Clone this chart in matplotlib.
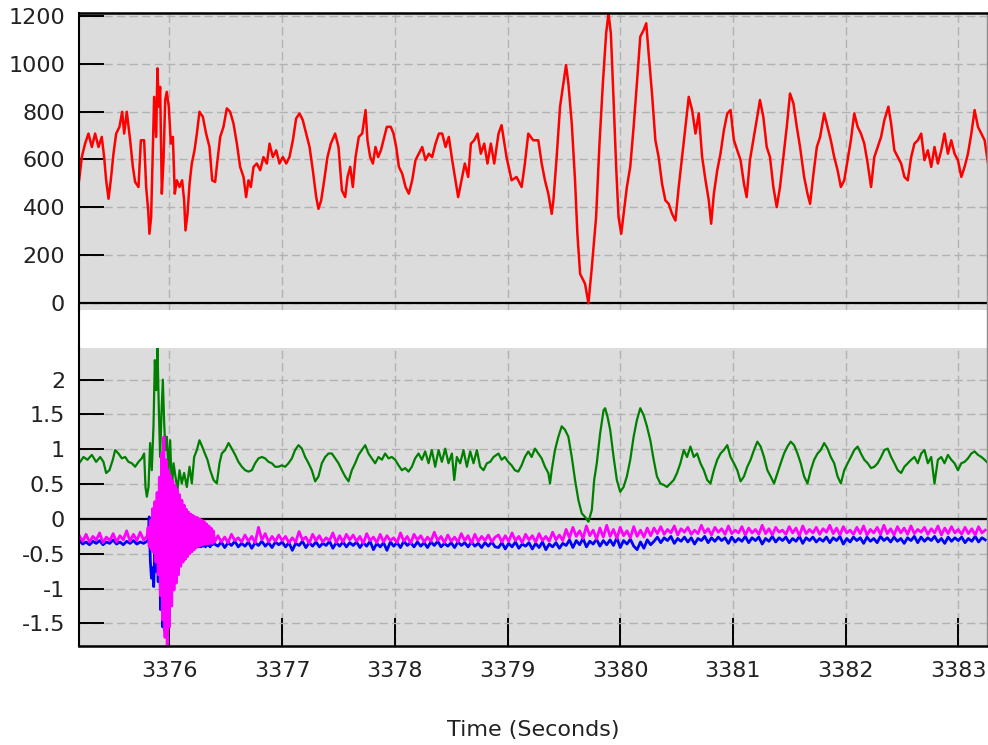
import matplotlib
matplotlib.use("Agg")
import matplotlib.pyplot as plt
from matplotlib.lines import Line2D
from matplotlib.ticker import FormatStrFormatter

plt.rcParams['font.family'] = ['DejaVu Sans']
plt.rcParams['axes.unicode_minus'] = False

# ---- data ----
x_ticks = [3376, 3377, 3378, 3379, 3380, 3381, 3382, 3383]
top_yticks = [0, 200, 400, 600, 800, 1000, 1200]
bot_yticks = [-1.5, -1, -0.5, 0, 0.5, 1, 1.5, 2]

# upper trace (red)
red_t = [
    3375.198, 3375.222, 3375.251, 3375.281, 3375.311, 3375.340, 3375.370, 3375.399, 3375.420, 3375.438,
    3375.459, 3375.479, 3375.503, 3375.527, 3375.556, 3375.580, 3375.598, 3375.621, 3375.651, 3375.675,
    3375.695, 3375.725, 3375.746, 3375.775, 3375.793, 3375.811, 3375.822, 3375.837, 3375.852, 3375.864,
    3375.882, 3375.893, 3375.905, 3375.917, 3375.932, 3375.947, 3375.962, 3375.976, 3375.994, 3376.012,
    3376.030, 3376.047, 3376.065, 3376.089, 3376.112, 3376.130, 3376.142, 3376.160, 3376.178, 3376.198,
    3376.222, 3376.243, 3376.266, 3376.296, 3376.325, 3376.355, 3376.379, 3376.405, 3376.426, 3376.450,
    3376.479, 3376.509, 3376.538, 3376.568, 3376.598, 3376.627, 3376.657, 3376.680, 3376.701, 3376.722,
    3376.746, 3376.775, 3376.805, 3376.834, 3376.864, 3376.888, 3376.917, 3376.947, 3376.976, 3377.006,
    3377.036, 3377.065, 3377.095, 3377.124, 3377.154, 3377.183, 3377.213, 3377.243, 3377.272, 3377.302,
    3377.322, 3377.346, 3377.373, 3377.402, 3377.432, 3377.470, 3377.500, 3377.530, 3377.559, 3377.580,
    3377.604, 3377.627, 3377.651, 3377.680, 3377.710, 3377.740, 3377.757, 3377.781, 3377.805, 3377.828,
    3377.852, 3377.876, 3377.899, 3377.929, 3377.964, 3377.988, 3378.012, 3378.036, 3378.065, 3378.095,
    3378.124, 3378.154, 3378.183, 3378.213, 3378.243, 3378.272, 3378.302, 3378.331, 3378.361, 3378.391,
    3378.420, 3378.450, 3378.479, 3378.509, 3378.538, 3378.562, 3378.592, 3378.621, 3378.651, 3378.675,
    3378.704, 3378.734, 3378.763, 3378.793, 3378.822, 3378.852, 3378.882, 3378.920, 3378.947, 3378.991,
    3379.036, 3379.080, 3379.125, 3379.154, 3379.184, 3379.228, 3379.273, 3379.303, 3379.332, 3379.362,
    3379.392, 3379.407, 3379.436, 3379.466, 3379.496, 3379.519, 3379.540, 3379.570, 3379.599, 3379.620,
    3379.644, 3379.688, 3379.718, 3379.748, 3379.786, 3379.816, 3379.846, 3379.875, 3379.896, 3379.917,
    3379.941, 3379.964, 3379.985, 3380.009, 3380.030, 3380.059, 3380.089, 3380.119, 3380.148, 3380.178,
    3380.208, 3380.231, 3380.252, 3380.282, 3380.312, 3380.341, 3380.371, 3380.401, 3380.430, 3380.460,
    3380.490, 3380.519, 3380.549, 3380.579, 3380.608, 3380.638, 3380.668, 3380.697, 3380.727, 3380.757,
    3380.786, 3380.807, 3380.831, 3380.861, 3380.890, 3380.920, 3380.950, 3380.979, 3381.009, 3381.039,
    3381.068, 3381.098, 3381.122, 3381.151, 3381.181, 3381.211, 3381.240, 3381.270, 3381.300, 3381.329,
    3381.359, 3381.389, 3381.418, 3381.448, 3381.478, 3381.507, 3381.537, 3381.567, 3381.596, 3381.632,
    3381.662, 3381.685, 3381.715, 3381.745, 3381.774, 3381.810, 3381.840, 3381.869, 3381.899, 3381.929,
    3381.958, 3381.988, 3382.018, 3382.047, 3382.077, 3382.107, 3382.136, 3382.166, 3382.196, 3382.226,
    3382.255, 3382.285, 3382.315, 3382.344, 3382.380, 3382.404, 3382.433, 3382.463, 3382.493, 3382.522,
    3382.552, 3382.582, 3382.611, 3382.641, 3382.671, 3382.700, 3382.730, 3382.760, 3382.789, 3382.819,
    3382.849, 3382.878, 3382.908, 3382.938, 3382.967, 3382.997, 3383.027, 3383.056, 3383.086, 3383.116,
    3383.145, 3383.175, 3383.205, 3383.234, 3383.264,
]
red_v = [
    513, 610, 666, 708, 652, 708, 652, 694, 610, 513,
    436, 513, 624, 708, 736, 799, 708, 799, 680, 569,
    506, 485, 680, 680, 485, 387, 290, 359, 638, 861,
    694, 980, 820, 903, 457, 597, 848, 882, 820, 666,
    694, 457, 513, 485, 513, 429, 304, 373, 499, 583,
    638, 708, 799, 778, 708, 652, 513, 506, 597, 694,
    736, 813, 799, 750, 666, 569, 527, 443, 513, 485,
    569, 583, 555, 610, 583, 666, 610, 638, 583, 610,
    583, 610, 680, 771, 792, 764, 708, 652, 555, 443,
    394, 429, 513, 610, 666, 708, 652, 471, 443, 527,
    569, 485, 610, 694, 708, 806, 680, 610, 583, 652,
    610, 638, 680, 736, 736, 708, 652, 569, 541, 485,
    457, 513, 597, 624, 652, 597, 624, 610, 666, 708,
    708, 652, 694, 597, 513, 443, 513, 583, 527, 666,
    680, 708, 624, 666, 583, 666, 583, 708, 743, 610,
    513, 527, 485, 583, 708, 680, 680, 583, 513, 457,
    373, 429, 610, 820, 917, 994, 917, 750, 513, 290,
    123, 81, 0, 150, 360, 666, 917, 1126, 1210, 1126,
    848, 569, 360, 290, 373, 485, 569, 736, 917, 1112,
    1140, 1168, 1043, 875, 680, 610, 499, 429, 415, 373,
    345, 485, 610, 736, 861, 806, 708, 792, 610, 513,
    429, 332, 457, 555, 624, 722, 792, 806, 680, 638,
    597, 499, 443, 597, 680, 764, 848, 778, 652, 610,
    485, 401, 485, 610, 736, 875, 834, 736, 652, 527,
    457, 415, 541, 652, 694, 792, 736, 680, 610, 555,
    485, 513, 597, 680, 792, 736, 708, 666, 583, 485,
    610, 652, 694, 764, 820, 750, 638, 610, 583, 527,
    513, 610, 666, 680, 708, 597, 638, 569, 652, 583,
    638, 708, 624, 680, 624, 597, 527, 569, 624, 708,
    806, 736, 708, 680, 583,
]

# lower panel, green trace
green_t = [
    3375.198, 3375.237, 3375.272, 3375.311, 3375.349, 3375.385, 3375.414, 3375.438, 3375.467, 3375.497,
    3375.518, 3375.547, 3375.577, 3375.607, 3375.636, 3375.666, 3375.695, 3375.725, 3375.754, 3375.775,
    3375.787, 3375.799, 3375.814, 3375.828, 3375.843, 3375.858, 3375.870, 3375.882, 3375.893, 3375.905,
    3375.917, 3375.929, 3375.941, 3375.953, 3375.964, 3375.976, 3375.991, 3376.006, 3376.021, 3376.036,
    3376.053, 3376.071, 3376.089, 3376.109, 3376.130, 3376.154, 3376.178, 3376.198, 3376.219, 3376.243,
    3376.266, 3376.290, 3376.314, 3376.337, 3376.361, 3376.391, 3376.420, 3376.444, 3376.464, 3376.494,
    3376.524, 3376.553, 3376.583, 3376.612, 3376.642, 3376.672, 3376.701, 3376.731, 3376.760, 3376.790,
    3376.820, 3376.849, 3376.879, 3376.908, 3376.938, 3376.967, 3376.997, 3377.027, 3377.056, 3377.086,
    3377.115, 3377.145, 3377.175, 3377.204, 3377.234, 3377.263, 3377.293, 3377.322, 3377.352, 3377.382,
    3377.411, 3377.441, 3377.470, 3377.500, 3377.530, 3377.559, 3377.589, 3377.618, 3377.648, 3377.678,
    3377.707, 3377.737, 3377.766, 3377.796, 3377.825, 3377.855, 3377.885, 3377.914, 3377.944, 3377.973,
    3378.003, 3378.033, 3378.062, 3378.092, 3378.121, 3378.151, 3378.180, 3378.210, 3378.240, 3378.269,
    3378.299, 3378.328, 3378.358, 3378.388, 3378.417, 3378.447, 3378.476, 3378.506, 3378.527, 3378.550,
    3378.580, 3378.609, 3378.639, 3378.669, 3378.698, 3378.728, 3378.757, 3378.787, 3378.817, 3378.846,
    3378.876, 3378.920, 3378.947, 3378.976, 3379.006, 3379.036, 3379.065, 3379.095, 3379.125, 3379.154,
    3379.184, 3379.214, 3379.243, 3379.273, 3379.303, 3379.332, 3379.362, 3379.377, 3379.392, 3379.421,
    3379.451, 3379.481, 3379.510, 3379.540, 3379.570, 3379.599, 3379.629, 3379.659, 3379.688, 3379.718,
    3379.748, 3379.769, 3379.792, 3379.822, 3379.852, 3379.866, 3379.887, 3379.911, 3379.941, 3379.970,
    3380.000, 3380.030, 3380.059, 3380.089, 3380.119, 3380.148, 3380.178, 3380.208, 3380.237, 3380.267,
    3380.297, 3380.326, 3380.356, 3380.386, 3380.415, 3380.445, 3380.475, 3380.504, 3380.534, 3380.564,
    3380.593, 3380.623, 3380.653, 3380.682, 3380.712, 3380.742, 3380.772, 3380.801, 3380.831, 3380.861,
    3380.890, 3380.920, 3380.950, 3380.979, 3381.009, 3381.039, 3381.068, 3381.098, 3381.128, 3381.157,
    3381.187, 3381.217, 3381.246, 3381.276, 3381.306, 3381.335, 3381.365, 3381.395, 3381.424, 3381.454,
    3381.484, 3381.513, 3381.543, 3381.573, 3381.602, 3381.632, 3381.662, 3381.691, 3381.721, 3381.751,
    3381.780, 3381.810, 3381.840, 3381.869, 3381.899, 3381.929, 3381.958, 3381.988, 3382.018, 3382.047,
    3382.077, 3382.107, 3382.136, 3382.166, 3382.196, 3382.226, 3382.255, 3382.285, 3382.315, 3382.344,
    3382.374, 3382.404, 3382.433, 3382.463, 3382.493, 3382.522, 3382.552, 3382.582, 3382.611, 3382.641,
    3382.671, 3382.700, 3382.730, 3382.760, 3382.789, 3382.819, 3382.849, 3382.878, 3382.908, 3382.938,
    3382.967, 3382.997, 3383.027, 3383.056, 3383.086, 3383.116, 3383.145, 3383.175, 3383.205, 3383.234,
    3383.264,
]
green_v = [
    0.80, 0.89, 0.85, 0.92, 0.82, 0.89, 0.82, 0.66, 0.70, 0.85,
    0.99, 0.94, 0.87, 0.89, 0.82, 0.80, 0.75, 0.82, 0.87, 0.94,
    0.46, 0.32, 0.46, 1.09, 0.70, 1.33, 2.28, 1.85, 2.47, 1.61,
    0.89, 1.52, 2.00, 1.37, 0.99, 1.18, 0.70, 1.13, 0.42, 0.80,
    0.61, 0.42, 0.70, 0.51, 0.66, 0.46, 0.75, 0.51, 0.89, 0.99,
    1.13, 1.04, 0.94, 0.85, 0.70, 0.56, 0.51, 0.80, 0.94, 0.99,
    1.09, 1.01, 0.92, 0.82, 0.75, 0.70, 0.68, 0.70, 0.80, 0.87,
    0.89, 0.87, 0.82, 0.80, 0.75, 0.75, 0.77, 0.75, 0.80, 0.87,
    0.99, 1.06, 1.01, 0.89, 0.80, 0.70, 0.54, 0.61, 0.80, 0.89,
    0.94, 0.94, 0.87, 0.80, 0.70, 0.61, 0.54, 0.70, 0.80, 0.92,
    0.99, 1.06, 0.94, 0.87, 0.80, 0.89, 0.85, 0.94, 0.87, 0.89,
    0.85, 0.77, 0.70, 0.73, 0.68, 0.75, 0.87, 0.94, 0.85, 0.97,
    0.80, 0.99, 0.75, 0.99, 0.82, 1.01, 0.80, 0.94, 0.56, 0.89,
    0.80, 0.99, 0.75, 0.97, 0.80, 0.99, 0.75, 0.70, 0.80, 0.82,
    0.89, 0.94, 0.85, 0.89, 0.82, 0.77, 0.70, 0.68, 0.77, 0.89,
    0.97, 0.89, 1.01, 0.94, 0.87, 0.75, 0.66, 0.51, 0.70, 0.99,
    1.18, 1.33, 1.28, 1.18, 0.89, 0.56, 0.27, 0.08, 0.03, -0.04,
    0.13, 0.56, 0.80, 1.23, 1.56, 1.59, 1.47, 1.28, 0.89, 0.56,
    0.39, 0.46, 0.61, 0.85, 1.18, 1.42, 1.59, 1.49, 1.33, 1.13,
    0.85, 0.61, 0.51, 0.49, 0.46, 0.51, 0.56, 0.66, 0.80, 0.99,
    0.89, 1.04, 0.89, 0.94, 0.80, 0.70, 0.56, 0.51, 0.70, 0.85,
    0.94, 0.99, 1.06, 0.89, 0.80, 0.70, 0.54, 0.61, 0.75, 0.85,
    0.99, 1.11, 1.04, 0.89, 0.70, 0.61, 0.51, 0.66, 0.80, 0.94,
    1.04, 1.11, 1.06, 0.94, 0.80, 0.61, 0.51, 0.70, 0.85, 0.94,
    0.99, 1.09, 1.01, 0.89, 0.80, 0.61, 0.51, 0.70, 0.80, 0.89,
    0.99, 1.04, 0.94, 0.85, 0.80, 0.73, 0.75, 0.80, 0.89, 0.99,
    1.01, 0.89, 0.80, 0.70, 0.66, 0.75, 0.80, 0.85, 0.89, 0.80,
    0.94, 0.99, 0.80, 0.89, 0.51, 0.85, 0.89, 0.80, 0.92, 0.85,
    0.80, 0.70, 0.80, 0.82, 0.87, 0.94, 0.97, 0.92, 0.89, 0.85,
    0.80,
]

# lower panel, blue and magenta traces share one time base
bm_t = [
    3375.20, 3375.23, 3375.26, 3375.29, 3375.32, 3375.35, 3375.38, 3375.41, 3375.44, 3375.47,
    3375.50, 3375.53, 3375.56, 3375.59, 3375.62, 3375.65, 3375.68, 3375.71, 3375.74, 3375.77,
    3375.80, 3375.81, 3375.82, 3375.83, 3375.84, 3375.85, 3375.86, 3375.87, 3375.88, 3375.89,
    3375.90, 3375.91, 3375.92, 3375.93, 3375.94, 3375.95, 3375.96, 3375.97, 3375.98, 3375.99,
    3376.00, 3376.01, 3376.02, 3376.03, 3376.04, 3376.05, 3376.06, 3376.07, 3376.08, 3376.09,
    3376.10, 3376.11, 3376.12, 3376.13, 3376.14, 3376.15, 3376.16, 3376.17, 3376.18, 3376.19,
    3376.20, 3376.21, 3376.22, 3376.23, 3376.24, 3376.25, 3376.26, 3376.27, 3376.28, 3376.29,
    3376.30, 3376.31, 3376.32, 3376.33, 3376.34, 3376.35, 3376.36, 3376.37, 3376.38, 3376.39,
    3376.40, 3376.43, 3376.46, 3376.49, 3376.52, 3376.55, 3376.58, 3376.61, 3376.64, 3376.67,
    3376.70, 3376.73, 3376.76, 3376.79, 3376.82, 3376.85, 3376.88, 3376.91, 3376.94, 3376.97,
    3377.00, 3377.03, 3377.06, 3377.09, 3377.12, 3377.15, 3377.18, 3377.21, 3377.24, 3377.27,
    3377.30, 3377.33, 3377.36, 3377.39, 3377.42, 3377.45, 3377.48, 3377.51, 3377.54, 3377.57,
    3377.60, 3377.63, 3377.66, 3377.69, 3377.72, 3377.75, 3377.78, 3377.81, 3377.84, 3377.87,
    3377.90, 3377.93, 3377.96, 3377.99, 3378.02, 3378.05, 3378.08, 3378.11, 3378.14, 3378.17,
    3378.20, 3378.23, 3378.26, 3378.29, 3378.32, 3378.35, 3378.38, 3378.41, 3378.44, 3378.47,
    3378.50, 3378.53, 3378.56, 3378.59, 3378.62, 3378.65, 3378.68, 3378.71, 3378.74, 3378.77,
    3378.80, 3378.83, 3378.86, 3378.89, 3378.92, 3378.95, 3378.98, 3379.01, 3379.04, 3379.07,
    3379.10, 3379.13, 3379.16, 3379.19, 3379.22, 3379.25, 3379.28, 3379.31, 3379.34, 3379.37,
    3379.40, 3379.43, 3379.46, 3379.49, 3379.52, 3379.55, 3379.58, 3379.61, 3379.64, 3379.67,
    3379.70, 3379.73, 3379.76, 3379.79, 3379.82, 3379.85, 3379.88, 3379.91, 3379.94, 3379.97,
    3380.00, 3380.03, 3380.06, 3380.09, 3380.12, 3380.15, 3380.18, 3380.21, 3380.24, 3380.27,
    3380.30, 3380.33, 3380.36, 3380.39, 3380.42, 3380.45, 3380.48, 3380.51, 3380.54, 3380.57,
    3380.60, 3380.63, 3380.66, 3380.69, 3380.72, 3380.75, 3380.78, 3380.81, 3380.84, 3380.87,
    3380.90, 3380.93, 3380.96, 3380.99, 3381.02, 3381.05, 3381.08, 3381.11, 3381.14, 3381.17,
    3381.20, 3381.23, 3381.26, 3381.29, 3381.32, 3381.35, 3381.38, 3381.41, 3381.44, 3381.47,
    3381.50, 3381.53, 3381.56, 3381.59, 3381.62, 3381.65, 3381.68, 3381.71, 3381.74, 3381.77,
    3381.80, 3381.83, 3381.86, 3381.89, 3381.92, 3381.95, 3381.98, 3382.01, 3382.04, 3382.07,
    3382.10, 3382.13, 3382.16, 3382.19, 3382.22, 3382.25, 3382.28, 3382.31, 3382.34, 3382.37,
    3382.40, 3382.43, 3382.46, 3382.49, 3382.52, 3382.55, 3382.58, 3382.61, 3382.64, 3382.67,
    3382.70, 3382.73, 3382.76, 3382.79, 3382.82, 3382.85, 3382.88, 3382.91, 3382.94, 3382.97,
    3383.00, 3383.03, 3383.06, 3383.09, 3383.12, 3383.15, 3383.18, 3383.21, 3383.24,
]
blue_v = [
    -0.31, -0.36, -0.33, -0.37, -0.32, -0.35, -0.31, -0.37, -0.33, -0.35,
    -0.30, -0.36, -0.33, -0.37, -0.32, -0.35, -0.31, -0.36, -0.33, -0.35,
    -0.32, -0.30, 0.03, -0.60, -0.85, -0.70, -0.97, -0.40, -0.75, -0.20,
    -0.90, 0.10, -1.30, 0.40, -1.55, 0.60, -1.62, 0.30, -1.40, 0.20,
    -1.20, 0.10, -0.90, 0.15, -0.80, 0.05, -0.70, 0.10, -0.65, 0.23,
    -0.60, 0.05, -0.55, -0.05, -0.50, -0.10, -0.48, -0.12, -0.45, -0.15,
    -0.44, -0.18, -0.42, -0.20, -0.40, -0.22, -0.40, -0.25, -0.40, -0.26,
    -0.39, -0.28, -0.40, -0.29, -0.38, -0.30, -0.40, -0.31, -0.37, -0.32,
    -0.36, -0.39, -0.33, -0.41, -0.34, -0.38, -0.32, -0.40, -0.35, -0.39,
    -0.33, -0.42, -0.34, -0.38, -0.32, -0.39, -0.34, -0.41, -0.33, -0.37,
    -0.33, -0.40, -0.34, -0.45, -0.35, -0.38, -0.32, -0.41, -0.34, -0.39,
    -0.33, -0.40, -0.35, -0.38, -0.32, -0.42, -0.34, -0.39, -0.33, -0.40,
    -0.34, -0.38, -0.33, -0.41, -0.34, -0.39, -0.32, -0.44, -0.35, -0.40,
    -0.34, -0.45, -0.33, -0.39, -0.34, -0.41, -0.32, -0.38, -0.34, -0.40,
    -0.33, -0.39, -0.34, -0.41, -0.33, -0.38, -0.32, -0.40, -0.35, -0.39,
    -0.34, -0.41, -0.33, -0.38, -0.34, -0.40, -0.33, -0.39, -0.35, -0.41,
    -0.34, -0.39, -0.33, -0.40, -0.41, -0.34, -0.43, -0.35, -0.40, -0.33,
    -0.42, -0.36, -0.39, -0.34, -0.43, -0.35, -0.41, -0.33, -0.44, -0.36,
    -0.40, -0.34, -0.42, -0.35, -0.38, -0.30, -0.41, -0.31, -0.37, -0.28,
    -0.40, -0.32, -0.36, -0.29, -0.39, -0.31, -0.37, -0.30, -0.38, -0.27,
    -0.41, -0.31, -0.36, -0.29, -0.39, -0.44, -0.33, -0.42, -0.30, -0.37,
    -0.32, -0.26, -0.34, -0.27, -0.31, -0.25, -0.35, -0.28, -0.32, -0.26,
    -0.33, -0.27, -0.36, -0.28, -0.31, -0.25, -0.34, -0.27, -0.32, -0.26,
    -0.31, -0.27, -0.35, -0.26, -0.33, -0.28, -0.32, -0.25, -0.34, -0.27,
    -0.31, -0.26, -0.36, -0.28, -0.32, -0.25, -0.33, -0.27, -0.31, -0.26,
    -0.34, -0.28, -0.32, -0.25, -0.35, -0.27, -0.31, -0.26, -0.33, -0.28,
    -0.32, -0.26, -0.34, -0.27, -0.31, -0.25, -0.36, -0.28, -0.33, -0.26,
    -0.31, -0.27, -0.35, -0.26, -0.32, -0.28, -0.34, -0.25, -0.31, -0.27,
    -0.33, -0.26, -0.32, -0.28, -0.35, -0.27, -0.31, -0.25, -0.34, -0.26,
    -0.32, -0.27, -0.31, -0.25, -0.33, -0.28, -0.35, -0.26, -0.32, -0.27,
    -0.31, -0.26, -0.34, -0.28, -0.32, -0.25, -0.33, -0.27, -0.30,
]
magenta_v = [
    -0.24, -0.32, -0.22, -0.33, -0.25, -0.30, -0.20, -0.34, -0.26, -0.31,
    -0.21, -0.33, -0.24, -0.30, -0.17, -0.32, -0.22, -0.31, -0.19, -0.30,
    -0.25, -0.12, -0.40, -0.02, -0.44, 0.15, -0.48, 0.25, -0.62, 0.38,
    -0.80, 0.60, -1.10, 0.95, -1.45, 1.18, -1.70, 0.85, -1.85, 0.70,
    -1.55, 0.62, -1.25, 0.55, -1.02, 0.48, -0.92, 0.42, -0.80, 0.35,
    -0.68, 0.27, -0.62, 0.20, -0.58, 0.14, -0.54, 0.10, -0.50, 0.07,
    -0.47, 0.05, -0.44, 0.03, -0.41, 0.02, -0.39, 0.00, -0.38, -0.02,
    -0.37, -0.04, -0.36, -0.07, -0.36, -0.10, -0.35, -0.13, -0.35, -0.17,
    -0.33, -0.24, -0.33, -0.26, -0.34, -0.22, -0.31, -0.27, -0.33, -0.23,
    -0.32, -0.25, -0.34, -0.12, -0.30, -0.21, -0.33, -0.25, -0.32, -0.23,
    -0.31, -0.25, -0.34, -0.27, -0.33, -0.18, -0.30, -0.26, -0.35, -0.22,
    -0.31, -0.24, -0.33, -0.27, -0.31, -0.20, -0.34, -0.24, -0.33, -0.22,
    -0.30, -0.23, -0.32, -0.25, -0.35, -0.21, -0.31, -0.26, -0.34, -0.22,
    -0.33, -0.24, -0.31, -0.27, -0.34, -0.20, -0.32, -0.25, -0.35, -0.22,
    -0.30, -0.24, -0.33, -0.26, -0.32, -0.19, -0.31, -0.25, -0.34, -0.23,
    -0.32, -0.26, -0.33, -0.21, -0.31, -0.24, -0.35, -0.22, -0.32, -0.25,
    -0.31, -0.23, -0.33, -0.26, -0.23, -0.33, -0.24, -0.32, -0.20, -0.31,
    -0.25, -0.34, -0.22, -0.30, -0.24, -0.33, -0.21, -0.31, -0.25, -0.32,
    -0.19, -0.30, -0.23, -0.31, -0.15, -0.27, -0.12, -0.25, -0.17, -0.28,
    -0.10, -0.24, -0.16, -0.29, -0.13, -0.26, -0.09, -0.25, -0.15, -0.28,
    -0.12, -0.24, -0.17, -0.27, -0.11, -0.25, -0.16, -0.26, -0.13, -0.24,
    -0.13, -0.21, -0.11, -0.22, -0.15, -0.20, -0.10, -0.23, -0.14, -0.19,
    -0.12, -0.22, -0.16, -0.21, -0.09, -0.20, -0.14, -0.23, -0.12, -0.19,
    -0.14, -0.22, -0.10, -0.21, -0.16, -0.20, -0.11, -0.23, -0.13, -0.20,
    -0.15, -0.22, -0.09, -0.21, -0.14, -0.23, -0.12, -0.19, -0.16, -0.22,
    -0.11, -0.20, -0.13, -0.24, -0.10, -0.21, -0.15, -0.20, -0.12, -0.22,
    -0.14, -0.19, -0.09, -0.21, -0.13, -0.23, -0.11, -0.20, -0.16, -0.22,
    -0.12, -0.21, -0.10, -0.23, -0.15, -0.20, -0.12, -0.22, -0.09, -0.21,
    -0.14, -0.23, -0.11, -0.20, -0.13, -0.22, -0.10, -0.21, -0.15, -0.19,
    -0.12, -0.22, -0.14, -0.20, -0.10, -0.23, -0.13, -0.21, -0.11, -0.20,
    -0.15, -0.22, -0.12, -0.21, -0.14, -0.23, -0.11, -0.20, -0.16,
]

# ---- layout / style ----
W, H = 988, 745
BG = '#dcdcdc'
GRID = '#b2b2b2'
X_MIN, X_MAX = 3375.197, 3383.255
LEFT_PX, RIGHT_PX = 79, 987


def fig_box(top_px, bottom_px):
    return [LEFT_PX / W, 1 - bottom_px / H, (RIGHT_PX - LEFT_PX) / W, (bottom_px - top_px) / H]


def style_panel(ax, yticks, ylim):
    ax.set_facecolor(BG)
    ax.set_xlim(X_MIN, X_MAX)
    ax.set_ylim(*ylim)
    ax.set_xticks(x_ticks)
    ax.set_yticks(yticks)
    ax.yaxis.set_major_formatter(FormatStrFormatter('%g'))
    ax.set_axisbelow(True)
    ax.grid(True, color=GRID, linestyle=(0, (6, 3)), linewidth=1.0)
    ax.axhline(0, color='black', linewidth=1.6, zorder=1.5)
    ax.tick_params(axis='y', direction='in', length=18, width=1.4, pad=10,
                   labelsize=16, labelcolor='#222222', color='black')
    for side in ('top', 'bottom'):
        ax.spines[side].set_visible(False)
    ax.spines['left'].set_linewidth(1.5)
    ax.spines['right'].set_color('#8c8c8c')
    ax.spines['right'].set_linewidth(1.0)


fig = plt.figure(figsize=(W / 100, H / 100), dpi=100)
ax_top = fig.add_axes(fig_box(12.5, 310))
ax_bot = fig.add_axes(fig_box(348.3, 646))

style_panel(ax_top, top_yticks, (-28, 1213))
ax_top.spines['top'].set_visible(True)
ax_top.spines['top'].set_linewidth(1.8)
ax_top.tick_params(axis='x', length=0, labelbottom=False)

style_panel(ax_bot, bot_yticks, (-1.823, 2.45))
ax_bot.spines['bottom'].set_visible(True)
ax_bot.spines['bottom'].set_linewidth(1.8)
ax_bot.tick_params(axis='x', direction='in', length=20, width=1.4, pad=11,
                   labelsize=16, labelcolor='#222222', color='black')
ax_bot.set_xlabel('Time (Seconds)', fontsize=16, color='#222222', labelpad=28)

# traces
ax_top.plot(red_t, red_v, color='#ff0000', linewidth=1.8)
ax_bot.plot(green_t, green_v, color='#008000', linewidth=1.6)
ax_bot.plot(bm_t, blue_v, color='#0000ff', linewidth=2.0)
ax_bot.plot(bm_t, magenta_v, color='#ff00ff', linewidth=2.0)

# left axis line runs through the gap between the two panels
gap_top = 1 - 310 / H
gap_bot = 1 - 348.3 / H
fig.add_artist(Line2D([LEFT_PX / W] * 2, [gap_bot, gap_top], color='black', linewidth=1.5))
fig.add_artist(Line2D([RIGHT_PX / W] * 2, [gap_bot, gap_top], color='#8c8c8c', linewidth=1.0))

fig.savefig('out.png', dpi=100)
